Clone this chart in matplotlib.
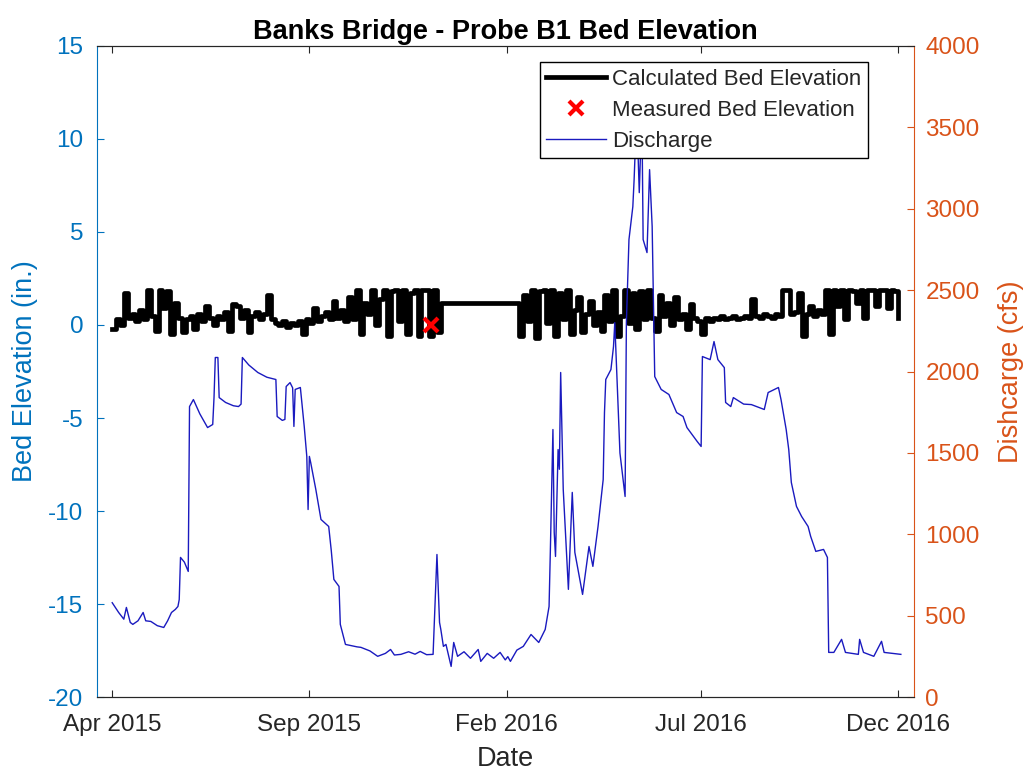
import numpy as np
import pandas as pd
import matplotlib
matplotlib.use("Agg")
import matplotlib.pyplot as plt
import matplotlib.dates as mdates
from matplotlib.lines import Line2D

# %% Data (days counted from Apr 1 2015)

start = pd.Timestamp("2015-04-01")

# Discharge
q_day = [0, 5, 9, 11, 14, 16, 20, 24, 26, 30, 35, 40, 43, 46, 49, 51, 52, 53, 56, 59,
         60, 63, 68, 74, 78, 79, 80, 82, 83, 88, 94, 98, 100, 101, 106, 113, 120, 127, 128, 132,
         134, 135, 138, 140, 141, 142, 146, 149, 151, 152, 153, 154, 158, 162, 168, 170, 172, 176, 177, 181,
         190, 193, 200, 206, 212, 216, 219, 224, 230, 235, 239, 244, 249, 252, 254, 255, 257, 259, 263, 265,
         268, 273, 278, 284, 286, 291, 296, 301, 305, 307, 309, 314, 319, 325, 331, 336, 339, 340, 342, 343,
         344, 346, 347, 348, 350, 354, 357, 359, 365, 370, 373, 377, 381, 382, 383, 387, 389, 390, 392, 394,
         397, 398, 399, 401, 404, 405, 407, 409, 411, 412, 415, 417, 419, 421, 426, 432, 438, 443, 446, 454,
         457, 458, 464, 467, 470, 475, 476, 480, 482, 490, 496, 506, 509, 517, 519, 523, 525, 527, 531, 535,
         540, 542, 546, 552, 555, 556, 560, 566, 569, 579, 580, 583, 591, 597, 599, 612]
q_cfs = [581, 521, 480, 552, 460, 448, 470, 521, 470, 466, 440, 429, 470, 521, 540, 558, 600, 859, 830, 773,
         1785, 1828, 1740, 1656, 1675, 1840, 2086, 2086, 1840, 1810, 1790, 1785, 1800, 2086, 2040, 1994, 1965, 1951, 1724, 1700,
         1706, 1908, 1932, 1900, 1663, 1890, 1902, 1663, 1479, 1153, 1479, 1442, 1276, 1092, 1049, 900, 724, 681, 448, 325,
         310, 307, 285, 252, 270, 294, 260, 264, 280, 265, 282, 262, 264, 877, 460, 417, 313, 325, 190, 337,
         252, 280, 240, 294, 221, 270, 240, 276, 230, 250, 221, 290, 313, 386, 337, 417, 558, 900, 1644, 1012,
         865, 1521, 1400, 1994, 1276, 663, 1258, 890, 632, 926, 804, 1049, 1337, 1748, 1951, 2012, 2153, 2300, 1900, 1500,
         1300, 1233, 2300, 2810, 3012, 3178, 3600, 3098, 3600, 2810, 2730, 3239, 2890, 1969, 1890, 1859, 1748, 1724, 1656, 1570,
         1540, 2092, 2073, 2184, 2073, 2024, 1810, 1785, 1840, 1800, 1797, 1767, 1871, 1902, 1828, 1644, 1521, 1319, 1172, 1110,
         1049, 988, 896, 908, 859, 276, 276, 356, 276, 264, 356, 276, 252, 344, 276, 264]

# Calculated bed elevation, one value every 3 days, with a flat gap in between
bed_step = 3
bed_a = [-0.2, 0.3, 0.0, 1.7, 0.4, 0.6, 0.2, 0.8, 0.3, 1.9, 0.5, -0.3, 1.9, 0.9, 1.8, -0.5, 1.2,
         0.4, -0.4, 0.3, 0.5, -0.2, 0.6, 0.2, 1.0, 0.4, 0.0, 0.5, 0.3, 0.7, -0.3, 1.1, 1.0,
         0.4, 0.8, -0.4, 0.5, 0.7, 0.3, 0.6, 1.6, 0.3, 0.1, 0.0, 0.2, -0.1, 0.1, 0.0,
         0.2, -0.5, 0.3, 0.1, 0.9, 0.2, 0.5, 0.7, 0.3, 1.3, 0.4, 0.8, 0.2,
         1.5, 0.3, 1.9, -0.5, 1.2, 0.6, 1.9, 0.0, 1.4,
         1.9, -0.6, 1.8, 1.9, 0.2, 1.9, -0.5, 1.7, 1.9, -0.6, 1.9, 1.9, -0.6, 1.9, -0.4]
bed_flat_day = 255
bed_flat_value = 1.2
bed_b_start = 313
bed_b = [1.2, -0.6, 1.6, 0.2, 1.9, -0.7, 1.8, 1.9, 0.1, 1.9, -0.6, 1.7,
         0.3, 1.9, -0.5, 0.8, 1.5, -0.4, 0.6, 1.3, 0.0, 0.7, -0.3,
         1.6, 0.2, 1.9, -0.6, 0.5, 1.9, 0.1, 1.7, -0.2, 1.8,
         0.3, 1.9, 0.4, -0.3, 1.6, 0.5, 1.2, 0.0, 1.5, 0.3, 0.6, -0.2, 1.1, 0.4, 0.2,
         -0.5, 0.4, 0.2,
         0.4, 0.3, 0.5, 0.3, 0.4, 0.5, 0.3, 0.4, 0.5, 0.4,
         1.4,
         0.5, 0.4, 0.6, 0.5, 0.4, 0.6, 0.5,
         1.9, 1.9, 0.6, 0.7, 1.7, -0.6,
         0.6, 1.0, 0.5, 0.8, 0.6,
         1.9, -0.5, 1.9,
         1.0, 1.9, 0.3, 1.9, 1.8, 1.2, 1.9, 0.4, 1.9, 1.9, 1.0, 1.9, 1.9, 0.9, 1.9, 1.8, 0.4]

# Measured bed elevation
meas_day = [247]
meas_elev = [0.0]

tick_dates = ["2015-04-01", "2015-09-01", "2016-02-01", "2016-07-01", "2016-12-01"]

# %% Build the series

def to_dates(days):
    return start + pd.to_timedelta(np.asarray(days, dtype=float), unit="D")

bed_days = np.concatenate([np.arange(len(bed_a)) * bed_step,
                           [bed_flat_day],
                           bed_b_start + np.arange(len(bed_b)) * bed_step])
bed_vals = np.concatenate([bed_a, [bed_flat_value], bed_b])

# %% Plot

plt.rcParams['font.family'] = ['Liberation Sans', 'DejaVu Sans']
plt.rcParams['axes.unicode_minus'] = False
blue_ax = (0, 0.447, 0.741)
orange_ax = (0.85, 0.325, 0.098)
dark = (0.15, 0.15, 0.15)
q_color = (0.1, 0.1, 0.75)

fig = plt.figure(figsize=(10.26, 7.74), dpi=100)
ax = fig.add_axes([0.0948, 0.099, 0.7963, 0.842])
ax2 = ax.twinx()

ax.plot(to_dates(bed_days), bed_vals, color='k', linewidth=3.4, drawstyle='steps-post')
ax.plot(to_dates(meas_day), meas_elev, linestyle='none', marker='x', color='red',
        markersize=10, markeredgewidth=3)
ax2.plot(to_dates(q_day), q_cfs, color=q_color, linewidth=1.0)

ax.set_ylim(-20, 15)
ax.set_yticks(np.arange(-20, 16, 5))
ax2.set_ylim(0, 4000)
ax2.set_yticks(np.arange(0, 4001, 500))
ax.set_xlim(start - pd.Timedelta(days=11.6), start + pd.Timedelta(days=622.4))
ax.set_xticks(pd.to_datetime(tick_dates))
ax.xaxis.set_major_formatter(mdates.DateFormatter('%b %Y'))

ax.tick_params(axis='x', direction='in', length=5, colors=dark, labelsize=17.5, top=True, pad=12)
ax.tick_params(axis='y', direction='in', length=5, colors=blue_ax, labelsize=17.5, pad=10)
ax2.tick_params(axis='y', direction='in', length=5, colors=orange_ax, labelsize=17.5, pad=8)

ax.spines['left'].set_color(blue_ax)
ax2.spines['left'].set_visible(False)
ax.spines['right'].set_visible(False)
ax2.spines['right'].set_color(orange_ax)
for a in (ax, ax2):
    a.spines['top'].set_color(dark)
    a.spines['bottom'].set_color(dark)

ax.set_xlabel('Date', fontsize=19.5, color=dark, labelpad=7)
ax.set_ylabel('Bed Elevation (in.)', fontsize=19.5, color=blue_ax, labelpad=7)
ax2.set_ylabel('Dishcarge (cfs)', fontsize=19.5, color=orange_ax, rotation=90, labelpad=13)
ax.set_title('Banks Bridge - Probe B1 Bed Elevation', fontsize=19.5, fontweight='bold', pad=5)

handles = [Line2D([], [], color='k', linewidth=3.4),
           Line2D([], [], linestyle='none', marker='x', color='red', markersize=10, markeredgewidth=3),
           Line2D([], [], color=q_color, linewidth=1.0)]
labels = ['Calculated Bed Elevation', 'Measured Bed Elevation', 'Discharge']
leg = ax2.legend(handles, labels, loc='upper right', bbox_to_anchor=(0.943, 0.975),
                 borderaxespad=0, fontsize=16, fancybox=False, framealpha=1,
                 facecolor='white', edgecolor='k', handlelength=2.7, handletextpad=0.25,
                 labelspacing=0.45, borderpad=0.3)
leg.set_zorder(20)
leg.get_frame().set_linewidth(1.0)
for t in leg.get_texts():
    t.set_color(dark)

fig.savefig('out.png', dpi=100)
